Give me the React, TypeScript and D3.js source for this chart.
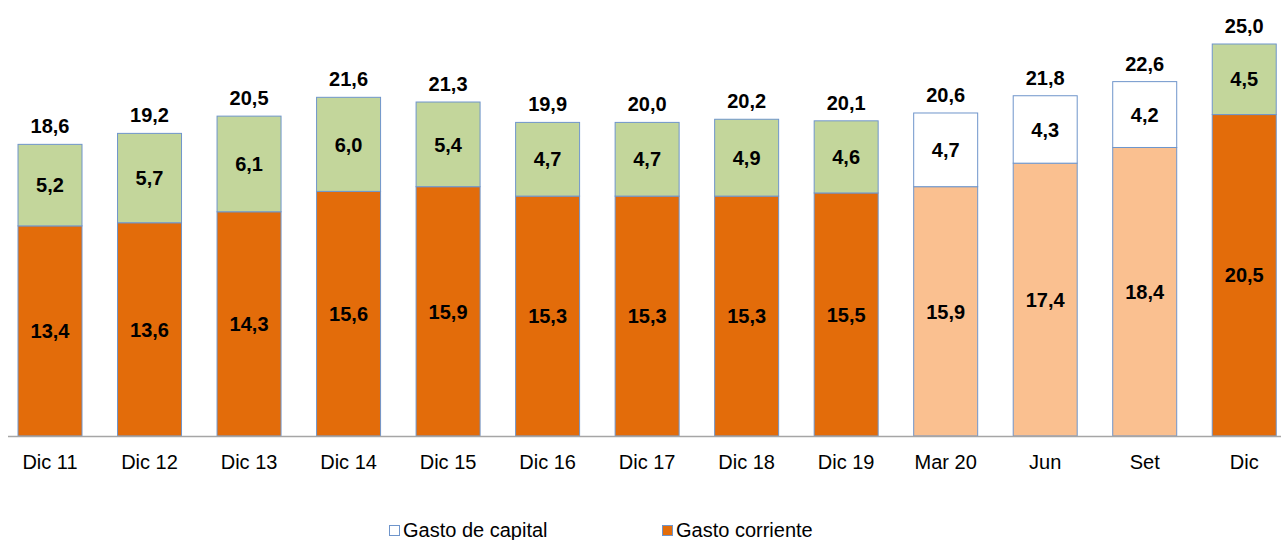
import React from "react";
import * as d3 from "d3";

const categories = ["Dic 11", "Dic 12", "Dic 13", "Dic 14", "Dic 15", "Dic 16", "Dic 17", "Dic 18", "Dic 19", "Mar 20", "Jun", "Set", "Dic"];
const gastoCorriente = [13.4, 13.6, 14.3, 15.6, 15.9, 15.3, 15.3, 15.3, 15.5, 15.9, 17.4, 18.4, 20.5];
const gastoCapital = [5.2, 5.7, 6.1, 6.0, 5.4, 4.7, 4.7, 4.9, 4.6, 4.7, 4.3, 4.2, 4.5];
const totals = [18.6, 19.2, 20.5, 21.6, 21.3, 19.9, 20.0, 20.2, 20.1, 20.6, 21.8, 22.6, 25.0];
const partial = [false, false, false, false, false, false, false, false, false, true, true, true, false];

const fmt = (v: number) => v.toFixed(1).replace(".", ",");

export default function App() {
  const W = 1281, H = 540;
  const x = d3.scaleBand<string>().domain(categories).range([0.25, 1294]).paddingInner(0.357).paddingOuter(0.1785);
  const y = d3.scaleLinear().domain([0, 25]).range([436, 44]);
  const font = "'Liberation Sans', Arial, sans-serif";
  const stroke = "#6F95CB";
  return (
    <svg width={W} height={H} style={{ position: "absolute", left: 0, top: 0 }} fontFamily={font}>
      {categories.map((c, i) => {
        const x0 = x(c)!;
        const bw = x.bandwidth();
        const yc = y(gastoCorriente[i]);
        const yt = y(gastoCorriente[i] + gastoCapital[i]);
        const cx = x0 + bw / 2;
        return (
          <g key={c}>
            <rect x={x0} y={yc} width={bw} height={y(0) - yc} fill={partial[i] ? "#FAC090" : "#E36C0A"} stroke={stroke} strokeWidth={1} />
            <rect x={x0} y={yt} width={bw} height={yc - yt} fill={partial[i] ? "#FFFFFF" : "#C3D69B"} stroke={stroke} strokeWidth={1} />
            <text x={cx} y={(yc + y(0)) / 2} dy="0.36em" textAnchor="middle" fontWeight="bold" fontSize={20} fill="#000">{fmt(gastoCorriente[i])}</text>
            <text x={cx} y={(yt + yc) / 2} dy="0.36em" textAnchor="middle" fontWeight="bold" fontSize={20} fill="#000">{fmt(gastoCapital[i])}</text>
            <text x={cx} y={yt - 11} textAnchor="middle" fontWeight="bold" fontSize={20} fill="#000">{fmt(totals[i])}</text>
            <text x={cx} y={469} textAnchor="middle" fontSize={20} fill="#000">{c}</text>
          </g>
        );
      })}
      <line x1={8} x2={1281} y1={436.5} y2={436.5} stroke="#A6A6A6" strokeWidth={1.5} />
      <g>
        <rect x={389.5} y={525.5} width={10} height={10} fill="#FFFFFF" stroke={stroke} />
        <text x={403} y={537} fontSize={20} fill="#000">Gasto de capital</text>
        <rect x={662.5} y={525.5} width={10} height={10} fill="#E36C0A" stroke={stroke} />
        <text x={676} y={537} fontSize={20} fill="#000">Gasto corriente</text>
      </g>
    </svg>
  );
}
